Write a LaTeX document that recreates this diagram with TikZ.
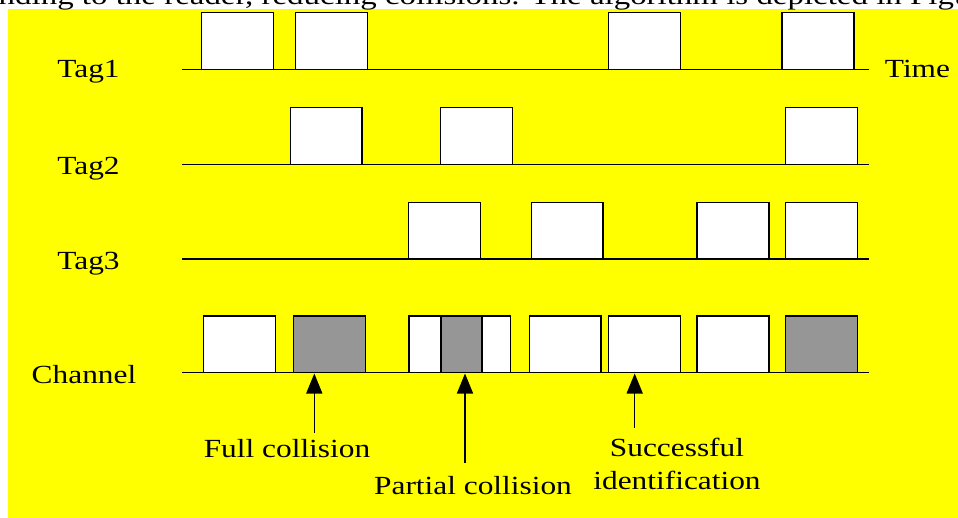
\documentclass[tikz,border=0pt]{standalone}
\usepackage{fontspec}
\setmainfont{Liberation Serif}
\usepackage{graphicx}
\usetikzlibrary{arrows.meta}
\tikzset{every picture/.style={line width=1.1pt}}
\definecolor{bgyellow}{RGB}{255,255,0}
\definecolor{hitgray}{RGB}{150,150,150}
\tikzset{
  slot/.style={draw=black, fill=white},
  hitslot/.style={draw=black, fill=hitgray},
  lbl/.style={anchor=base, inner sep=0pt, font=\fontsize{19.6}{24}\selectfont},
  marker/.style={-{Triangle[width=12pt,length=15pt]}},
}
\newcommand{\wide}[1]{\scalebox{1.2}[1]{#1}}

\begin{document}
\begin{tikzpicture}[x=0.75pt,y=0.75pt,yscale=-1,xscale=1]
\useasboundingbox (0,0) rectangle (958,518);

%Shape: Rectangle (background)
\fill[bgyellow] (8,9) rectangle (958,518);

% Text Node (cut page line above)
\begin{scope}
\clip (0,0) rectangle (958,9);
\draw (-2,4) node (pageline) [lbl, anchor=base west] {\scalebox{1.26}[1]{nding to the reader, reducing collisions. The algorithm is depicted in Figu}};
\end{scope}

%Straight Lines (time axes)
\draw (182,69.5) -- (869,69.5) ;
\draw (182,164.3) -- (869,164.3) ;
\draw (182,259) -- (869,259) ;
\draw (182,372.7) -- (869,372.7) ;

%Shape: Rectangle (Tag1)
\draw[slot] (201.5,12.5) rectangle (273.5,69.5) ;
\draw[slot] (295.5,12.5) rectangle (367.5,69.5) ;
\draw[slot] (608.5,12.5) rectangle (680.5,69.5) ;
\draw[slot] (782,12.5) rectangle (854,69.5) ;

%Shape: Rectangle (Tag2)
\draw[slot] (290.5,107.3) rectangle (362,164.3) ;
\draw[slot] (440.7,107.3) rectangle (512.7,164.3) ;
\draw[slot] (785.7,107.3) rectangle (857.3,164.3) ;

%Shape: Rectangle (Tag3)
\draw[slot] (408.7,202.3) rectangle (480.3,259) ;
\draw[slot] (531.7,202.3) rectangle (603,259) ;
\draw[slot] (697,202.3) rectangle (769,259) ;
\draw[slot] (785.7,202.3) rectangle (857.7,259) ;

%Shape: Rectangle (Channel)
\draw[slot] (203.3,316) rectangle (275.3,372.7) ;
\draw[hitslot] (293.7,316) rectangle (365.3,372.7) ;
\draw[slot] (409,316) rectangle (510.7,372.7) ;
\draw[hitslot] (441,316) rectangle (482,372.7) ;
\draw[slot] (529.3,316) rectangle (601,372.7) ;
\draw[slot] (608.3,316) rectangle (680.3,372.7) ;
\draw[slot] (697,316) rectangle (769,372.7) ;
\draw[hitslot] (785.7,316) rectangle (857.7,372.7) ;

% Text Node
\draw (88.5,77.7) node (tagone) [lbl] {\wide{Tag1}};
% Text Node
\draw (88.5,174) node (tagtwo) [lbl] {\wide{Tag2}};
% Text Node
\draw (88.5,269.3) node (tagthree) [lbl] {\wide{Tag3}};
% Text Node
\draw (84,383.3) node (chan) [lbl] {\wide{Channel}};
% Text Node
\draw (917.5,77.7) node (timelbl) [lbl] {\wide{Time}};
% Text Node
\draw (287,457) node (fullcoll) [lbl] {\wide{Full collision}};
% Text Node
\draw (473,494.3) node (partcoll) [lbl] {\wide{Partial collision}};
% Text Node
\draw (677,456.7) node (succlbl) [lbl] {\wide{Successful}};
% Text Node
\draw (677,489) node (identlbl) [lbl] {\wide{identification}};

%Straight Lines (arrows)
\coordinate (fulltail) at (314.3,433);
\coordinate (fulltip) at (314.3,373.5);
\coordinate (parttail) at (465,463);
\coordinate (parttip) at (465,373.5);
\coordinate (succtail) at (634.7,428);
\coordinate (succtip) at (634.7,373.5);
\draw[marker] (fulltail) -- (fulltip) ;
\draw[marker] (parttail) -- (parttip) ;
\draw[marker] (succtail) -- (succtip) ;

\end{tikzpicture}
\end{document}
